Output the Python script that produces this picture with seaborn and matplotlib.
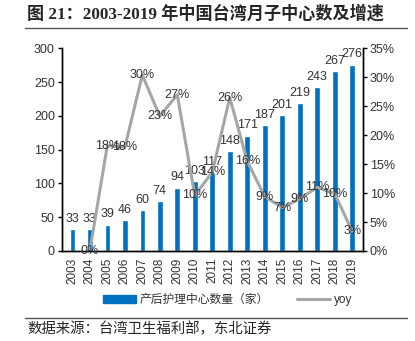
import matplotlib
matplotlib.use("Agg")
import matplotlib.pyplot as plt
import seaborn as sns
import numpy as np
import pandas as pd
from matplotlib.lines import Line2D
from matplotlib.patches import Patch

years = ["2003", "2004", "2005", "2006", "2007", "2008", "2009", "2010", "2011",
         "2012", "2013", "2014", "2015", "2016", "2017", "2018", "2019"]
centers = [33, 33, 39, 46, 60, 74, 94, 103, 117, 148, 171, 187, 201, 219, 243, 267, 276]
yoy = [np.nan, 0.0, 18.2, 17.9, 30.4, 23.3, 27.0, 9.6, 13.6, 26.5, 15.5, 9.4, 7.5, 9.0, 11.0, 9.9, 3.4]
yoy_labels = ["", "0%", "18%", "18%", "30%", "23%", "27%", "10%", "14%", "26%", "16%",
              "9%", "7%", "9%", "11%", "10%", "3%"]

sns.set_theme(style="white")
plt.rcParams['font.family'] = ['Liberation Sans', 'Noto Sans CJK SC', 'DejaVu Sans']

df = pd.DataFrame({"year": years, "centers": centers, "yoy": yoy})

fig = plt.figure(figsize=(4.15, 3.41), dpi=100)
ax = fig.add_axes([0.149, 0.264, 0.725, 0.594])
bar_color = "#0070C0"
line_color = "#A6A6A6"
txt_color = "#333333"

sns.barplot(data=df, x="year", y="centers", color=bar_color, width=0.32,
            saturation=1, ax=ax)
ax.set_ylim(0, 300)
ax.set_yticks(range(0, 301, 50))
ax.set_xlabel("")
ax.set_ylabel("")
for i, v in enumerate(centers):
    ax.annotate(str(v), (i, v), xytext=(0, 3), textcoords="offset points",
                ha="center", va="bottom", fontsize=9, color=txt_color)

ax2 = ax.twinx()
sns.lineplot(x=np.arange(len(years)), y=df["yoy"], color=line_color, lw=2.2, ax=ax2)
ax2.set_ylim(0, 35)
ax2.set_yticks(range(0, 36, 5))
ax2.set_yticklabels([f"{t}%" for t in range(0, 36, 5)])
ax2.set_ylabel("")
for i, (v, lab) in enumerate(zip(yoy, yoy_labels)):
    if lab:
        ax2.text(i, v, lab, ha="center", va="center", fontsize=9, color=txt_color)
ax.set_xlim(-0.6, len(years) - 0.4)

for a in (ax, ax2):
    a.spines["top"].set_visible(False)
    for s in ("left", "right", "bottom"):
        a.spines[s].set_color("black")
        a.spines[s].set_linewidth(1)
    a.tick_params(labelsize=9, labelcolor=txt_color, length=3, width=1, pad=2)
    a.grid(False)
ax.tick_params(axis="y", left=True, direction="out", color="black")
ax2.tick_params(axis="y", right=True, direction="out", color="black")
ax.tick_params(axis="x", bottom=False, labelsize=8.5)
plt.setp(ax.get_xticklabels(), rotation=90)

handles = [Patch(color=bar_color), Line2D([0], [0], color=line_color, lw=2.2)]
fig.legend(handles, ["产后护理中心数量（家）", "yoy"], loc="center", bbox_to_anchor=(0.548, 0.12),
           ncol=2, frameon=False, fontsize=8.5, handlelength=2.8, handleheight=0.6,
           columnspacing=2.4, handletextpad=0.3, labelcolor=txt_color)

fig.text(0.065, 0.958, "图 21：2003-2019 年中国台湾月子中心数及增速", fontsize=12.3, fontweight="bold",
         family=['Liberation Serif', 'Noto Sans CJK SC'], ha="left", va="center")
fig.add_artist(Line2D([0.06, 0.98], [0.918, 0.918], color="#555555", lw=1))
fig.add_artist(Line2D([0.06, 0.98], [0.067, 0.067], color="#555555", lw=1))
fig.text(0.065, 0.035, "数据来源：台湾卫生福利部，东北证券", fontsize=10.4,
         family=['Noto Sans CJK SC'], ha="left", va="center")

fig.savefig("out.png", dpi=100)
